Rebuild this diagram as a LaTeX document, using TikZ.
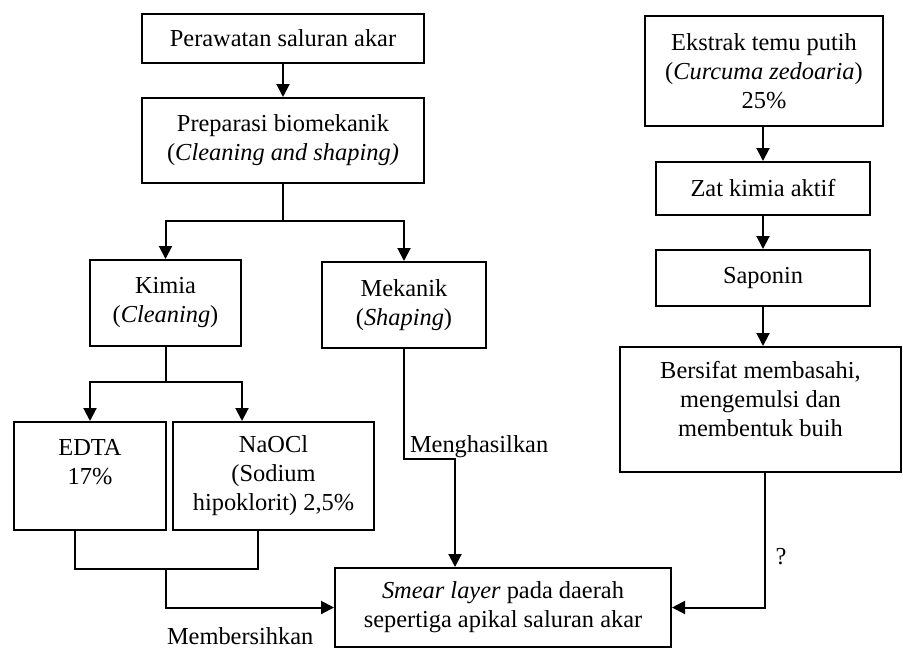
\documentclass[tikz,border=0pt]{standalone}
\usepackage{fontspec}
\setmainfont{Liberation Serif}
\usetikzlibrary{arrows.meta,positioning}
\newcommand{\flowfont}{\fontsize{12.2}{14.5}\selectfont}

\begin{document}
\begin{tikzpicture}[
    x=0.5pt, y=-0.5pt,
    box/.style={rectangle, draw, line width=1pt, align=center, inner sep=2pt, font=\flowfont},
    arrow/.style={->, line width=1pt, >={Triangle[length=6.5pt,width=6.5pt]}},
    line/.style={line width=1pt},
    lbl/.style={inner sep=0pt, font=\flowfont}
]
\useasboundingbox (0,0) rectangle (903,648);

% Left branch: treatment
\node[box, minimum width=141pt, minimum height=24.5pt] (perawatan) at (283,38.5) {Perawatan saluran akar};
\node[box, minimum width=141pt, minimum height=42.5pt] (preparasi) at (283,140.5) {
    Preparasi biomekanik\\
    (\textit{Cleaning and shaping)}
};
\node[box, minimum width=75.5pt, minimum height=43pt] (kimia) at (165.5,303) {Kimia\\(\textit{Cleaning})};
\node[box, minimum width=82pt, minimum height=43pt] (mekanik) at (404,305) {Mekanik\\(\textit{Shaping})};
\node[box, minimum width=76pt, minimum height=54pt] (edta) at (90,476) {EDTA\\17\%\\\phantom{x}};
\node[box, minimum width=100.5pt, minimum height=54pt] (naocl) at (273.5,476) {
    NaOCl\\
    (Sodium\\
    hipoklorit) 2,5\%
};

% Smear layer
\node[box, minimum width=168pt, minimum height=39.5pt] (smear) at (503,607.5) {
    \textit{Smear layer} pada daerah\\
    sepertiga apikal saluran akar
};

% Right branch: extract
\node[box, minimum width=119pt, minimum height=55pt] (ekstrak) at (764,71) {
    Ekstrak temu putih\\
    (\textit{Curcuma zedoaria})\\
    25\%
};
\node[box, minimum width=107pt, minimum height=26.5pt] (zat) at (763,188.5) {Zat kimia aktif};
\node[box, minimum width=107pt, minimum height=28pt] (saponin) at (763,278) {Saponin};
\node[box, minimum width=140.5pt, minimum height=62.5pt] (bersifat) at (760.5,409.5) {
    Bersifat membasahi,\\
    mengemulsi dan\\
    membentuk buih\\[-4pt]\mbox{}
};

% Connections, left
\draw[arrow] (perawatan) -- (preparasi);
\coordinate (split1) at (283,221);
\draw[line] (preparasi.south) -- (split1);
\draw[arrow] (split1) -| (kimia.north);
\draw[arrow] (split1) -| (mekanik.north);

\coordinate (split2) at (165.5,382);
\draw[line] (kimia.south) -- (split2);
\draw[arrow] (split2) -| (edta.north);
\draw[arrow] (split2) -| (kimia.east |- naocl.north);

\coordinate (join) at (166,569);
\draw[line] ([xshift=-7.5pt]edta.south) |- (join) -| ([xshift=-7.75pt]naocl.south);
\draw[arrow] (join) |- node[lbl, pos=0.5, anchor=north west, yshift=-9.5pt] {Membersihkan} (smear.west);

\coordinate (bend) at (455,459);
\draw[arrow] (mekanik.south) |- node[lbl, pos=0.5, anchor=south west, xshift=2.5pt] {Menghasilkan} (bend) -- (bend |- smear.north);

% Connections, right
\draw[arrow] (zat.north |- ekstrak.south) -- (zat.north);
\draw[arrow] (zat) -- (saponin);
\draw[arrow] (saponin.south) -- (saponin.south |- bersifat.north);
\draw[arrow] ([xshift=2pt]bersifat.south) |- node[lbl, pos=0.31, right=5pt] {?} (smear.east);

\end{tikzpicture}
\end{document}
